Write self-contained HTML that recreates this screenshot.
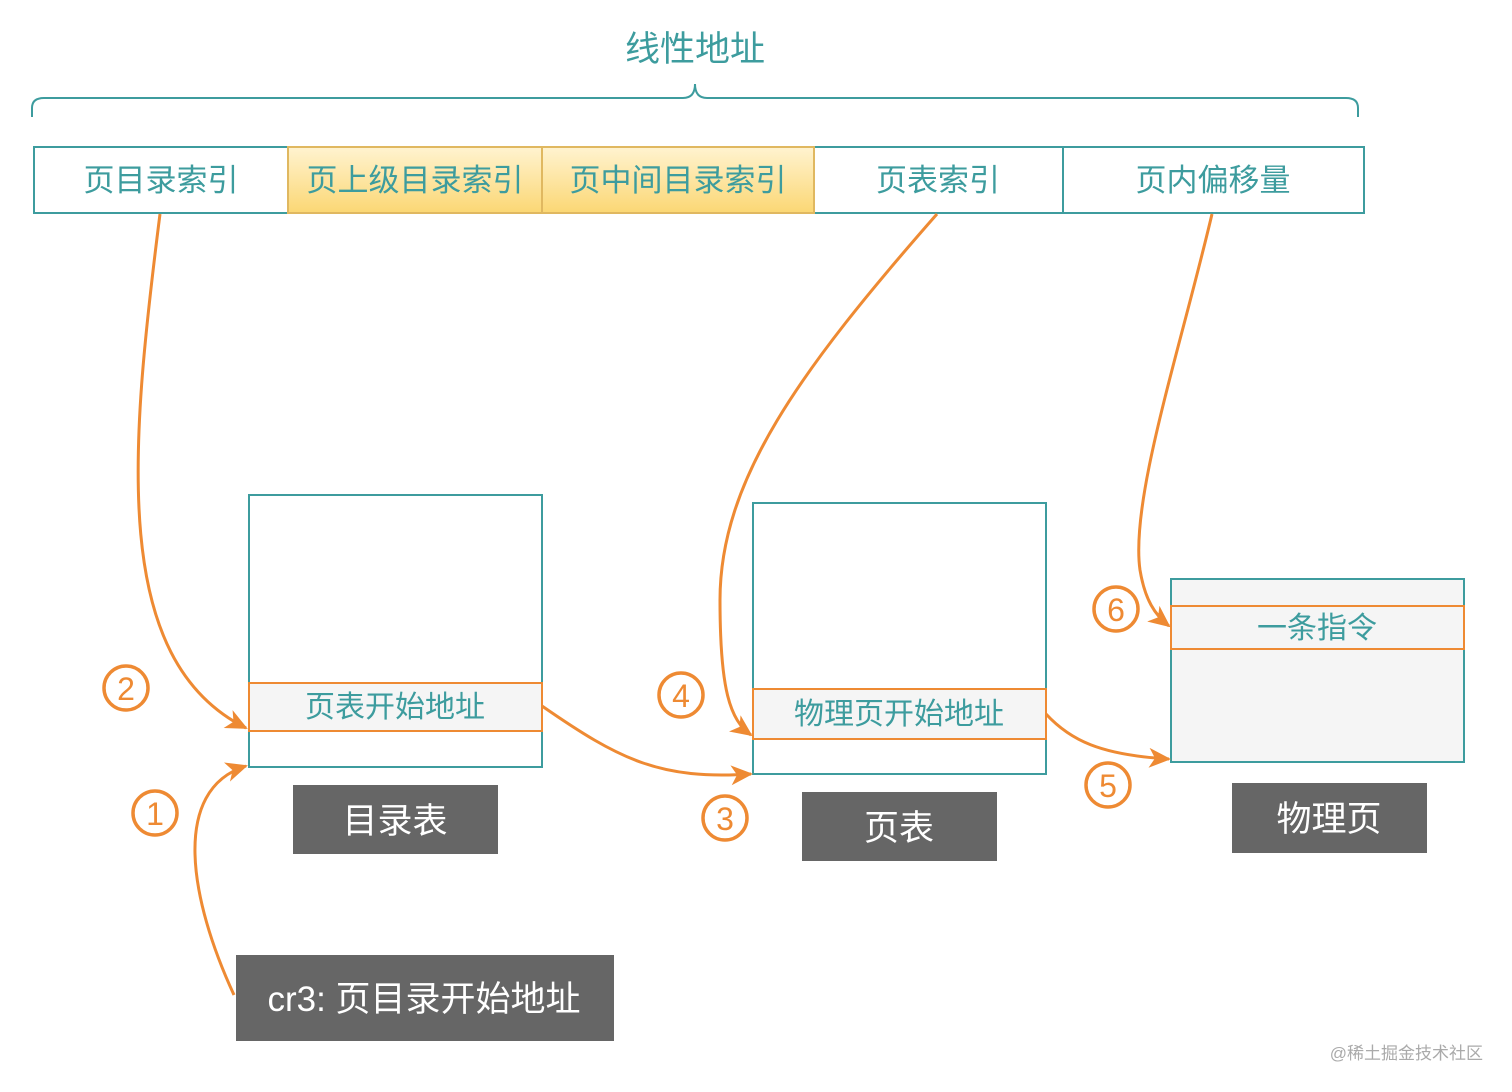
<!DOCTYPE html>
<html><head><meta charset="utf-8"><style>
html,body{margin:0;padding:0;background:#fff;}
svg{display:block;}
text{font-family:"Liberation Sans","Noto Sans CJK SC",sans-serif;}
</style></head><body>
<svg width="1512" height="1092" viewBox="0 0 1512 1092" xmlns="http://www.w3.org/2000/svg">
<defs>
<linearGradient id="y" x1="0" y1="0" x2="0" y2="1"><stop offset="0" stop-color="#fff3d0"/><stop offset="1" stop-color="#fbd774"/></linearGradient>
<marker id="a" markerWidth="22" markerHeight="20" refX="20" refY="10" orient="auto" markerUnits="userSpaceOnUse" viewBox="0 0 22 20"><path d="M0,0 L22,10 L0,20 L6,10 z" fill="#ee8a33"/></marker>
</defs>
<text x="695" y="61" font-size="35" fill="#3d9c9e" text-anchor="middle">线性地址</text>
<path d="M32 117 L32 108 Q32 98 44 98 L683 98 Q695 98 695 84 Q695 98 707 98 L1346 98 Q1358 98 1358 108 L1358 117" fill="none" stroke="#3d9c9e" stroke-width="2"/>
<rect x="288" y="147" width="526" height="66" fill="url(#y)"/>
<rect x="34" y="147" width="1330" height="66" fill="none" stroke="#3d9c9e" stroke-width="2"/>
<rect x="288" y="147" width="526" height="66" fill="none" stroke="#e0b860" stroke-width="2"/>
<line x1="542" y1="147" x2="542" y2="213" stroke="#e0b860" stroke-width="2"/>
<line x1="1063" y1="147" x2="1063" y2="213" stroke="#3d9c9e" stroke-width="2"/>
<g font-size="31" fill="#3d9c9e" text-anchor="middle">
<text x="161" y="191">页目录索引</text>
<text x="415" y="191">页上级目录索引</text>
<text x="678" y="191">页中间目录索引</text>
<text x="938" y="191">页表索引</text>
<text x="1213" y="191">页内偏移量</text>
</g>
<rect x="249" y="495" width="293" height="272" fill="#fff" stroke="#3d9c9e" stroke-width="2"/>
<rect x="249" y="683" width="293" height="48" fill="#f5f5f5" stroke="#ee8a33" stroke-width="2"/>
<text x="395" y="717" font-size="30" fill="#3d9c9e" text-anchor="middle">页表开始地址</text>
<rect x="753" y="503" width="293" height="271" fill="#fff" stroke="#3d9c9e" stroke-width="2"/>
<rect x="753" y="689" width="293" height="50" fill="#f5f5f5" stroke="#ee8a33" stroke-width="2"/>
<text x="899" y="724" font-size="30" fill="#3d9c9e" text-anchor="middle">物理页开始地址</text>
<rect x="1171" y="579" width="293" height="183" fill="#f5f5f5" stroke="#3d9c9e" stroke-width="2"/>
<rect x="1171" y="606" width="293" height="43" fill="#f5f5f5" stroke="#ee8a33" stroke-width="2"/>
<text x="1317" y="638" font-size="30" fill="#3d9c9e" text-anchor="middle">一条指令</text>
<g fill="#666">
<rect x="293" y="785" width="205" height="69"/>
<rect x="802" y="792" width="195" height="69"/>
<rect x="1232" y="783" width="195" height="70"/>
<rect x="236" y="955" width="378" height="86"/>
</g>
<g fill="#fff" font-size="35" text-anchor="middle">
<text x="395" y="833">目录表</text>
<text x="899" y="840">页表</text>
<text x="1329" y="831">物理页</text>
<text x="424" y="1011">cr3: 页目录开始地址</text>
</g>
<g fill="none" stroke="#ee8a33" stroke-width="3" marker-end="url(#a)">
<path d="M160 214 C130 450 110 660 246 728"/>
<path d="M234 995 C190 900 170 790 246 766"/>
<path d="M542 706 C620 760 660 780 751 774"/>
<path d="M937 214 C800 370 720 480 720 600 C720 690 730 720 751 735"/>
<path d="M1046 714 C1070 740 1100 755 1169 759"/>
<path d="M1212 214 C1180 350 1130 500 1140 570 C1145 600 1155 615 1169 626"/>
</g>
<g fill="none" stroke="#ee8a33" stroke-width="3.5">
<circle cx="155" cy="813" r="22"/><circle cx="126" cy="688" r="22"/>
<circle cx="725" cy="818" r="22"/><circle cx="681" cy="695" r="22"/>
<circle cx="1108" cy="785" r="22"/><circle cx="1116" cy="609" r="22"/>
</g>
<g fill="#ee8a33" font-size="32" text-anchor="middle">
<text x="155" y="825">1</text><text x="126" y="700">2</text>
<text x="725" y="830">3</text><text x="681" y="707">4</text>
<text x="1108" y="797">5</text><text x="1116" y="621">6</text>
</g>
<text x="1483" y="1059" font-size="17" fill="#aaa" text-anchor="end">@稀土掘金技术社区</text>
</svg>
</body></html>
